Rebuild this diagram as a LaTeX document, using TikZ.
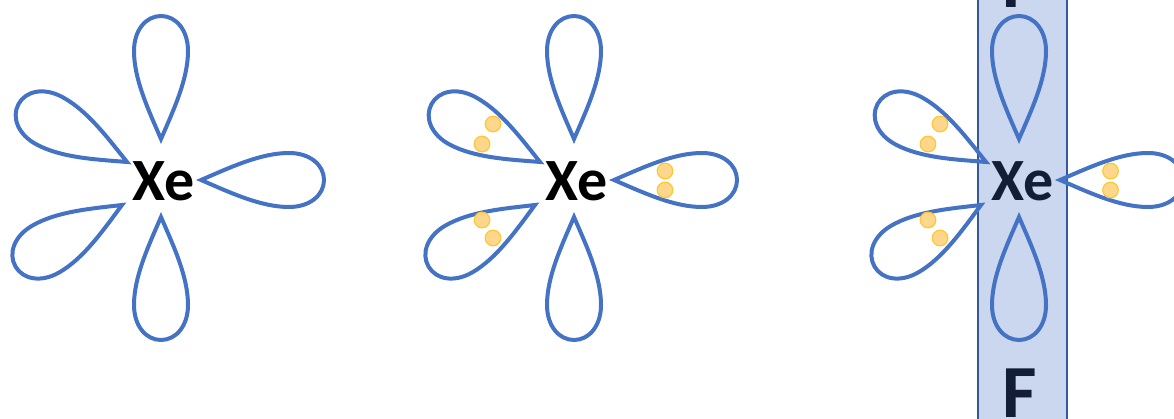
\documentclass[tikz,border=0pt]{standalone}
\usepackage{fontspec}
\setmainfont{Carlito}
\definecolor{lobe}{HTML}{4472C4}
\definecolor{bandfill}{HTML}{CBD7EE}
\definecolor{bandline}{HTML}{35599A}
\definecolor{dotfill}{HTML}{FFD78C}
\definecolor{dotline}{HTML}{FFC832}
\definecolor{navy}{HTML}{131E36}
\tikzset{
  lobeline/.style={draw=lobe,line width=4pt,line join=miter,miter limit=8},
  band/.style={fill=bandfill,draw=bandline,line width=2.5pt},
  dot/.style={fill=dotfill,draw=dotline,line width=1.2pt},
  xe/.style={inner sep=0pt,font=\fontsize{60}{60}\selectfont\bfseries},
  fl/.style={inner sep=0pt,font=\fontsize{75}{75}\selectfont\bfseries,text=navy}
}
\newcommand{\lobeat}[3]{%
  \draw[lobeline,shift={(#1,#2)},rotate=#3]
    (0,0) .. controls (30,-13) and (60,-27) .. (88,-27)
    .. controls (109,-27) and (123,-15) .. (123,0)
    .. controls (123,15) and (109,27) .. (88,27)
    .. controls (60,27) and (30,13) .. cycle;}
\newcommand{\dotat}[2]{\draw[dot] (#1,#2) circle (7.8);}
\begin{document}
\begin{tikzpicture}[x=1pt,y=-1pt]
\useasboundingbox (0,0) rectangle (1174,419);
\clip (0,0) rectangle (1174,419);
% third group band
\draw[band] (978,-10) rectangle (1067,430);
% first group
\lobeat{161}{139}{90}
\lobeat{161}{217}{270}
\lobeat{201}{180}{0}
\lobeat{127}{162}{152}
\lobeat{122}{205}{210}
\node[xe] (xea) at (164,181) {Xe};
% second group
\lobeat{574}{139}{90}
\lobeat{574}{217}{270}
\lobeat{614}{180}{0}
\lobeat{540}{162}{152}
\lobeat{535}{205}{210}
\node[xe] (xeb) at (577,181) {Xe};
\dotat{493}{124}\dotat{482}{144}\dotat{482}{220}\dotat{493}{238}\dotat{665}{171}\dotat{665}{190}
% third group
\lobeat{1019}{139}{90}
\lobeat{1019}{217}{270}
\lobeat{1060}{180}{0}
\lobeat{986}{162}{152}
\lobeat{981}{205}{210}
\node[xe,text=navy] (xec) at (1023,181) {Xe};
\dotat{940}{124}\dotat{928}{144}\dotat{928}{220}\dotat{940}{238}\dotat{1110.5}{171}\dotat{1110.5}{190}
\node[fl] (ftop) at (1020,-16.5) {F};
\node[fl] (fbot) at (1020,393) {F};
\end{tikzpicture}
\end{document}
